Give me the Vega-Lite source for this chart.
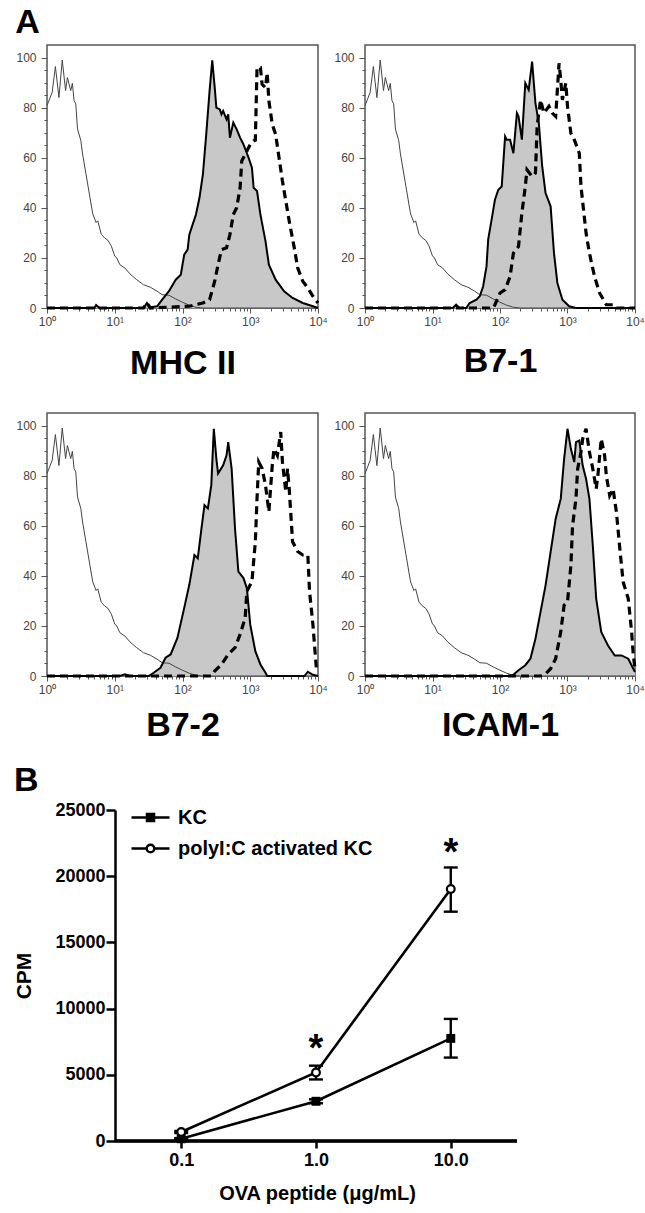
{
  "$schema": "https://vega.github.io/schema/vega-lite/v6.json",
  "background": "white",
  "padding": {"left": 13, "top": 6, "right": 2, "bottom": 5},
  "config": {
    "font": "Liberation Sans",
    "view": {"stroke": "#555555", "strokeWidth": 1.5},
    "title": {"anchor": "start", "fontSize": 34, "fontWeight": "bold", "color": "black", "font": "Liberation Sans", "offset": 4},
    "axis": {"labelFont": "Liberation Sans", "titleFont": "Liberation Sans"}
  },
  "datasets": {
    "iso": [
      {"fluorescence": 1, "count": 80.8}, {"fluorescence": 1.19, "count": 86}, {"fluorescence": 1.33, "count": 96.4},
      {"fluorescence": 1.5, "count": 84}, {"fluorescence": 1.68, "count": 99}, {"fluorescence": 1.88, "count": 86.8},
      {"fluorescence": 2, "count": 92}, {"fluorescence": 2.24, "count": 86.8}, {"fluorescence": 2.37, "count": 89.7},
      {"fluorescence": 2.51, "count": 82.8}, {"fluorescence": 2.66, "count": 81.5}, {"fluorescence": 2.82, "count": 71.5},
      {"fluorescence": 3.16, "count": 66.8}, {"fluorescence": 3.35, "count": 61.5}, {"fluorescence": 3.76, "count": 53.5},
      {"fluorescence": 4.22, "count": 45.5}, {"fluorescence": 4.73, "count": 37.6}, {"fluorescence": 5.31, "count": 34.1},
      {"fluorescence": 5.62, "count": 34.8}, {"fluorescence": 6.31, "count": 29.5}, {"fluorescence": 7.08, "count": 28},
      {"fluorescence": 7.94, "count": 27}, {"fluorescence": 8.91, "count": 24.7}, {"fluorescence": 10, "count": 20.7},
      {"fluorescence": 10.6, "count": 20.2}, {"fluorescence": 11.9, "count": 17.3}, {"fluorescence": 14.1, "count": 16},
      {"fluorescence": 16.8, "count": 13.6}, {"fluorescence": 21.1, "count": 11.3}, {"fluorescence": 26.6, "count": 9.3},
      {"fluorescence": 33.5, "count": 8.3}, {"fluorescence": 42.2, "count": 6.7}, {"fluorescence": 50.1, "count": 5.3},
      {"fluorescence": 63.1, "count": 5.1}, {"fluorescence": 79.4, "count": 3.6}, {"fluorescence": 100, "count": 2.3},
      {"fluorescence": 126, "count": 1.1}, {"fluorescence": 158, "count": 0.3}, {"fluorescence": 200, "count": 0},
      {"fluorescence": 10000, "count": 0}
    ],
    "hist": [
      {"marker": "MHC II", "series": "KC", "fluorescence": 1, "count": 0},
      {"marker": "MHC II", "series": "KC", "fluorescence": 5.01, "count": 0},
      {"marker": "MHC II", "series": "KC", "fluorescence": 5.31, "count": 1.2},
      {"marker": "MHC II", "series": "KC", "fluorescence": 5.96, "count": 0},
      {"marker": "MHC II", "series": "KC", "fluorescence": 26.6, "count": 0},
      {"marker": "MHC II", "series": "KC", "fluorescence": 29.9, "count": 2},
      {"marker": "MHC II", "series": "KC", "fluorescence": 33.5, "count": 0.3},
      {"marker": "MHC II", "series": "KC", "fluorescence": 42.2, "count": 0.7},
      {"marker": "MHC II", "series": "KC", "fluorescence": 50.1, "count": 3.3},
      {"marker": "MHC II", "series": "KC", "fluorescence": 63.1, "count": 6.7},
      {"marker": "MHC II", "series": "KC", "fluorescence": 79.4, "count": 11.3},
      {"marker": "MHC II", "series": "KC", "fluorescence": 94.4, "count": 13.3},
      {"marker": "MHC II", "series": "KC", "fluorescence": 106, "count": 21.3},
      {"marker": "MHC II", "series": "KC", "fluorescence": 119, "count": 23.3},
      {"marker": "MHC II", "series": "KC", "fluorescence": 126, "count": 29.3},
      {"marker": "MHC II", "series": "KC", "fluorescence": 141, "count": 33.3},
      {"marker": "MHC II", "series": "KC", "fluorescence": 158, "count": 37.3},
      {"marker": "MHC II", "series": "KC", "fluorescence": 178, "count": 44},
      {"marker": "MHC II", "series": "KC", "fluorescence": 200, "count": 53.3},
      {"marker": "MHC II", "series": "KC", "fluorescence": 224, "count": 69.3},
      {"marker": "MHC II", "series": "KC", "fluorescence": 251, "count": 86.7},
      {"marker": "MHC II", "series": "KC", "fluorescence": 275, "count": 98.9},
      {"marker": "MHC II", "series": "KC", "fluorescence": 299, "count": 88},
      {"marker": "MHC II", "series": "KC", "fluorescence": 316, "count": 80},
      {"marker": "MHC II", "series": "KC", "fluorescence": 355, "count": 79.3},
      {"marker": "MHC II", "series": "KC", "fluorescence": 376, "count": 77.3},
      {"marker": "MHC II", "series": "KC", "fluorescence": 398, "count": 78.7},
      {"marker": "MHC II", "series": "KC", "fluorescence": 447, "count": 75.3},
      {"marker": "MHC II", "series": "KC", "fluorescence": 473, "count": 77.3},
      {"marker": "MHC II", "series": "KC", "fluorescence": 501, "count": 68},
      {"marker": "MHC II", "series": "KC", "fluorescence": 562, "count": 74},
      {"marker": "MHC II", "series": "KC", "fluorescence": 631, "count": 71.3},
      {"marker": "MHC II", "series": "KC", "fluorescence": 708, "count": 68},
      {"marker": "MHC II", "series": "KC", "fluorescence": 794, "count": 65.3},
      {"marker": "MHC II", "series": "KC", "fluorescence": 944, "count": 60},
      {"marker": "MHC II", "series": "KC", "fluorescence": 1059, "count": 56},
      {"marker": "MHC II", "series": "KC", "fluorescence": 1122, "count": 48},
      {"marker": "MHC II", "series": "KC", "fluorescence": 1259, "count": 46.7},
      {"marker": "MHC II", "series": "KC", "fluorescence": 1413, "count": 37.3},
      {"marker": "MHC II", "series": "KC", "fluorescence": 1679, "count": 26.7},
      {"marker": "MHC II", "series": "KC", "fluorescence": 1884, "count": 17.3},
      {"marker": "MHC II", "series": "KC", "fluorescence": 2371, "count": 11.3},
      {"marker": "MHC II", "series": "KC", "fluorescence": 3162, "count": 6.7},
      {"marker": "MHC II", "series": "KC", "fluorescence": 4217, "count": 4},
      {"marker": "MHC II", "series": "KC", "fluorescence": 5957, "count": 2},
      {"marker": "MHC II", "series": "KC", "fluorescence": 8414, "count": 0.7},
      {"marker": "MHC II", "series": "KC", "fluorescence": 10000, "count": 0},

      {"marker": "MHC II", "series": "activated", "fluorescence": 1, "count": 0},
      {"marker": "MHC II", "series": "activated", "fluorescence": 26.6, "count": 0},
      {"marker": "MHC II", "series": "activated", "fluorescence": 29.9, "count": 2},
      {"marker": "MHC II", "series": "activated", "fluorescence": 33.5, "count": 0},
      {"marker": "MHC II", "series": "activated", "fluorescence": 126, "count": 0.7},
      {"marker": "MHC II", "series": "activated", "fluorescence": 200, "count": 2},
      {"marker": "MHC II", "series": "activated", "fluorescence": 251, "count": 3.3},
      {"marker": "MHC II", "series": "activated", "fluorescence": 299, "count": 10.7},
      {"marker": "MHC II", "series": "activated", "fluorescence": 335, "count": 17.3},
      {"marker": "MHC II", "series": "activated", "fluorescence": 376, "count": 23.3},
      {"marker": "MHC II", "series": "activated", "fluorescence": 447, "count": 24},
      {"marker": "MHC II", "series": "activated", "fluorescence": 501, "count": 29.3},
      {"marker": "MHC II", "series": "activated", "fluorescence": 562, "count": 37.3},
      {"marker": "MHC II", "series": "activated", "fluorescence": 631, "count": 40},
      {"marker": "MHC II", "series": "activated", "fluorescence": 708, "count": 48},
      {"marker": "MHC II", "series": "activated", "fluorescence": 750, "count": 58.7},
      {"marker": "MHC II", "series": "activated", "fluorescence": 841, "count": 61.3},
      {"marker": "MHC II", "series": "activated", "fluorescence": 1000, "count": 65.3},
      {"marker": "MHC II", "series": "activated", "fluorescence": 1122, "count": 66.7},
      {"marker": "MHC II", "series": "activated", "fluorescence": 1189, "count": 67},
      {"marker": "MHC II", "series": "activated", "fluorescence": 1259, "count": 96},
      {"marker": "MHC II", "series": "activated", "fluorescence": 1413, "count": 96},
      {"marker": "MHC II", "series": "activated", "fluorescence": 1496, "count": 89.3},
      {"marker": "MHC II", "series": "activated", "fluorescence": 1679, "count": 88},
      {"marker": "MHC II", "series": "activated", "fluorescence": 1778, "count": 94},
      {"marker": "MHC II", "series": "activated", "fluorescence": 1884, "count": 82.7},
      {"marker": "MHC II", "series": "activated", "fluorescence": 2113, "count": 73.3},
      {"marker": "MHC II", "series": "activated", "fluorescence": 2371, "count": 69.3},
      {"marker": "MHC II", "series": "activated", "fluorescence": 2661, "count": 60},
      {"marker": "MHC II", "series": "activated", "fluorescence": 2985, "count": 50.7},
      {"marker": "MHC II", "series": "activated", "fluorescence": 3350, "count": 42.7},
      {"marker": "MHC II", "series": "activated", "fluorescence": 3758, "count": 34.7},
      {"marker": "MHC II", "series": "activated", "fluorescence": 4467, "count": 24},
      {"marker": "MHC II", "series": "activated", "fluorescence": 5012, "count": 16},
      {"marker": "MHC II", "series": "activated", "fluorescence": 5957, "count": 10.7},
      {"marker": "MHC II", "series": "activated", "fluorescence": 7079, "count": 8},
      {"marker": "MHC II", "series": "activated", "fluorescence": 8414, "count": 4.7},
      {"marker": "MHC II", "series": "activated", "fluorescence": 10000, "count": 2},

      {"marker": "B7-1", "series": "KC", "fluorescence": 1, "count": 0},
      {"marker": "B7-1", "series": "KC", "fluorescence": 20, "count": 0},
      {"marker": "B7-1", "series": "KC", "fluorescence": 22.4, "count": 1.3},
      {"marker": "B7-1", "series": "KC", "fluorescence": 25.1, "count": 0},
      {"marker": "B7-1", "series": "KC", "fluorescence": 31.6, "count": 0},
      {"marker": "B7-1", "series": "KC", "fluorescence": 35.5, "count": 2},
      {"marker": "B7-1", "series": "KC", "fluorescence": 44.7, "count": 3.3},
      {"marker": "B7-1", "series": "KC", "fluorescence": 50.1, "count": 4.7},
      {"marker": "B7-1", "series": "KC", "fluorescence": 56.2, "count": 8.6},
      {"marker": "B7-1", "series": "KC", "fluorescence": 63.1, "count": 16.6},
      {"marker": "B7-1", "series": "KC", "fluorescence": 66.8, "count": 27.3},
      {"marker": "B7-1", "series": "KC", "fluorescence": 75, "count": 35.2},
      {"marker": "B7-1", "series": "KC", "fluorescence": 84.1, "count": 43.2},
      {"marker": "B7-1", "series": "KC", "fluorescence": 94.4, "count": 47.2},
      {"marker": "B7-1", "series": "KC", "fluorescence": 106, "count": 48.5},
      {"marker": "B7-1", "series": "KC", "fluorescence": 119, "count": 68.5},
      {"marker": "B7-1", "series": "KC", "fluorescence": 126, "count": 67.2},
      {"marker": "B7-1", "series": "KC", "fluorescence": 141, "count": 67.2},
      {"marker": "B7-1", "series": "KC", "fluorescence": 158, "count": 61.8},
      {"marker": "B7-1", "series": "KC", "fluorescence": 178, "count": 77.8},
      {"marker": "B7-1", "series": "KC", "fluorescence": 188, "count": 76.5},
      {"marker": "B7-1", "series": "KC", "fluorescence": 211, "count": 67.2},
      {"marker": "B7-1", "series": "KC", "fluorescence": 237, "count": 89.8},
      {"marker": "B7-1", "series": "KC", "fluorescence": 266, "count": 87.1},
      {"marker": "B7-1", "series": "KC", "fluorescence": 299, "count": 98.4},
      {"marker": "B7-1", "series": "KC", "fluorescence": 335, "count": 81.8},
      {"marker": "B7-1", "series": "KC", "fluorescence": 376, "count": 73.8},
      {"marker": "B7-1", "series": "KC", "fluorescence": 422, "count": 56.5},
      {"marker": "B7-1", "series": "KC", "fluorescence": 473, "count": 45.9},
      {"marker": "B7-1", "series": "KC", "fluorescence": 562, "count": 40.6},
      {"marker": "B7-1", "series": "KC", "fluorescence": 631, "count": 21.9},
      {"marker": "B7-1", "series": "KC", "fluorescence": 708, "count": 10},
      {"marker": "B7-1", "series": "KC", "fluorescence": 841, "count": 3.3},
      {"marker": "B7-1", "series": "KC", "fluorescence": 1059, "count": 0.7},
      {"marker": "B7-1", "series": "KC", "fluorescence": 1334, "count": 0},
      {"marker": "B7-1", "series": "KC", "fluorescence": 10000, "count": 0},

      {"marker": "B7-1", "series": "activated", "fluorescence": 1, "count": 0},
      {"marker": "B7-1", "series": "activated", "fluorescence": 79.4, "count": 0},
      {"marker": "B7-1", "series": "activated", "fluorescence": 84.1, "count": 1.3},
      {"marker": "B7-1", "series": "activated", "fluorescence": 100, "count": 6},
      {"marker": "B7-1", "series": "activated", "fluorescence": 119, "count": 7.3},
      {"marker": "B7-1", "series": "activated", "fluorescence": 141, "count": 12.6},
      {"marker": "B7-1", "series": "activated", "fluorescence": 158, "count": 21.9},
      {"marker": "B7-1", "series": "activated", "fluorescence": 188, "count": 24.6},
      {"marker": "B7-1", "series": "activated", "fluorescence": 211, "count": 37.9},
      {"marker": "B7-1", "series": "activated", "fluorescence": 237, "count": 48.5},
      {"marker": "B7-1", "series": "activated", "fluorescence": 251, "count": 55.2},
      {"marker": "B7-1", "series": "activated", "fluorescence": 299, "count": 52.5},
      {"marker": "B7-1", "series": "activated", "fluorescence": 335, "count": 53.9},
      {"marker": "B7-1", "series": "activated", "fluorescence": 355, "count": 72.5},
      {"marker": "B7-1", "series": "activated", "fluorescence": 398, "count": 83.1},
      {"marker": "B7-1", "series": "activated", "fluorescence": 447, "count": 77.8},
      {"marker": "B7-1", "series": "activated", "fluorescence": 531, "count": 80.5},
      {"marker": "B7-1", "series": "activated", "fluorescence": 596, "count": 77.8},
      {"marker": "B7-1", "series": "activated", "fluorescence": 668, "count": 76.5},
      {"marker": "B7-1", "series": "activated", "fluorescence": 750, "count": 97.7},
      {"marker": "B7-1", "series": "activated", "fluorescence": 794, "count": 91.1},
      {"marker": "B7-1", "series": "activated", "fluorescence": 841, "count": 83.1},
      {"marker": "B7-1", "series": "activated", "fluorescence": 944, "count": 89.8},
      {"marker": "B7-1", "series": "activated", "fluorescence": 1000, "count": 80.5},
      {"marker": "B7-1", "series": "activated", "fluorescence": 1122, "count": 69.8},
      {"marker": "B7-1", "series": "activated", "fluorescence": 1259, "count": 67.2},
      {"marker": "B7-1", "series": "activated", "fluorescence": 1496, "count": 61.8},
      {"marker": "B7-1", "series": "activated", "fluorescence": 1585, "count": 48.5},
      {"marker": "B7-1", "series": "activated", "fluorescence": 1884, "count": 29.9},
      {"marker": "B7-1", "series": "activated", "fluorescence": 2113, "count": 21.9},
      {"marker": "B7-1", "series": "activated", "fluorescence": 2512, "count": 12.6},
      {"marker": "B7-1", "series": "activated", "fluorescence": 2985, "count": 6},
      {"marker": "B7-1", "series": "activated", "fluorescence": 3758, "count": 1.3},
      {"marker": "B7-1", "series": "activated", "fluorescence": 4732, "count": 1.3},
      {"marker": "B7-1", "series": "activated", "fluorescence": 5309, "count": 0},
      {"marker": "B7-1", "series": "activated", "fluorescence": 10000, "count": 0},

      {"marker": "B7-2", "series": "KC", "fluorescence": 1, "count": 0},
      {"marker": "B7-2", "series": "KC", "fluorescence": 11.9, "count": 0},
      {"marker": "B7-2", "series": "KC", "fluorescence": 14.1, "count": 0.7},
      {"marker": "B7-2", "series": "KC", "fluorescence": 16.8, "count": 0},
      {"marker": "B7-2", "series": "KC", "fluorescence": 31.6, "count": 0},
      {"marker": "B7-2", "series": "KC", "fluorescence": 37.6, "count": 1.3},
      {"marker": "B7-2", "series": "KC", "fluorescence": 47.3, "count": 3.3},
      {"marker": "B7-2", "series": "KC", "fluorescence": 56.2, "count": 7.3},
      {"marker": "B7-2", "series": "KC", "fluorescence": 66.8, "count": 8.6},
      {"marker": "B7-2", "series": "KC", "fluorescence": 84.1, "count": 15.2},
      {"marker": "B7-2", "series": "KC", "fluorescence": 106, "count": 27.2},
      {"marker": "B7-2", "series": "KC", "fluorescence": 126, "count": 36.4},
      {"marker": "B7-2", "series": "KC", "fluorescence": 150, "count": 48.3},
      {"marker": "B7-2", "series": "KC", "fluorescence": 168, "count": 47},
      {"marker": "B7-2", "series": "KC", "fluorescence": 188, "count": 57.6},
      {"marker": "B7-2", "series": "KC", "fluorescence": 211, "count": 68.2},
      {"marker": "B7-2", "series": "KC", "fluorescence": 237, "count": 66.9},
      {"marker": "B7-2", "series": "KC", "fluorescence": 266, "count": 76.2},
      {"marker": "B7-2", "series": "KC", "fluorescence": 290, "count": 98.7},
      {"marker": "B7-2", "series": "KC", "fluorescence": 316, "count": 86.8},
      {"marker": "B7-2", "series": "KC", "fluorescence": 335, "count": 80.8},
      {"marker": "B7-2", "series": "KC", "fluorescence": 398, "count": 84.1},
      {"marker": "B7-2", "series": "KC", "fluorescence": 447, "count": 88.1},
      {"marker": "B7-2", "series": "KC", "fluorescence": 473, "count": 93.4},
      {"marker": "B7-2", "series": "KC", "fluorescence": 531, "count": 82.8},
      {"marker": "B7-2", "series": "KC", "fluorescence": 596, "count": 58.9},
      {"marker": "B7-2", "series": "KC", "fluorescence": 668, "count": 41.7},
      {"marker": "B7-2", "series": "KC", "fluorescence": 794, "count": 39.1},
      {"marker": "B7-2", "series": "KC", "fluorescence": 891, "count": 35.1},
      {"marker": "B7-2", "series": "KC", "fluorescence": 1000, "count": 20.5},
      {"marker": "B7-2", "series": "KC", "fluorescence": 1189, "count": 9.9},
      {"marker": "B7-2", "series": "KC", "fluorescence": 1413, "count": 4.6},
      {"marker": "B7-2", "series": "KC", "fluorescence": 1679, "count": 1.3},
      {"marker": "B7-2", "series": "KC", "fluorescence": 1778, "count": 0},
      {"marker": "B7-2", "series": "KC", "fluorescence": 6310, "count": 0},
      {"marker": "B7-2", "series": "KC", "fluorescence": 7079, "count": 1.7},
      {"marker": "B7-2", "series": "KC", "fluorescence": 8414, "count": 0.5},
      {"marker": "B7-2", "series": "KC", "fluorescence": 10000, "count": 0},

      {"marker": "B7-2", "series": "activated", "fluorescence": 1, "count": 0},
      {"marker": "B7-2", "series": "activated", "fluorescence": 266, "count": 0},
      {"marker": "B7-2", "series": "activated", "fluorescence": 299, "count": 2},
      {"marker": "B7-2", "series": "activated", "fluorescence": 376, "count": 4.6},
      {"marker": "B7-2", "series": "activated", "fluorescence": 473, "count": 8.6},
      {"marker": "B7-2", "series": "activated", "fluorescence": 596, "count": 11.3},
      {"marker": "B7-2", "series": "activated", "fluorescence": 708, "count": 16.6},
      {"marker": "B7-2", "series": "activated", "fluorescence": 841, "count": 23.2},
      {"marker": "B7-2", "series": "activated", "fluorescence": 891, "count": 33.8},
      {"marker": "B7-2", "series": "activated", "fluorescence": 1059, "count": 37.7},
      {"marker": "B7-2", "series": "activated", "fluorescence": 1189, "count": 53.6},
      {"marker": "B7-2", "series": "activated", "fluorescence": 1259, "count": 70.9},
      {"marker": "B7-2", "series": "activated", "fluorescence": 1334, "count": 85.4},
      {"marker": "B7-2", "series": "activated", "fluorescence": 1496, "count": 82.8},
      {"marker": "B7-2", "series": "activated", "fluorescence": 1679, "count": 76.2},
      {"marker": "B7-2", "series": "activated", "fluorescence": 1884, "count": 65.6},
      {"marker": "B7-2", "series": "activated", "fluorescence": 2113, "count": 84.1},
      {"marker": "B7-2", "series": "activated", "fluorescence": 2239, "count": 90.7},
      {"marker": "B7-2", "series": "activated", "fluorescence": 2512, "count": 88.1},
      {"marker": "B7-2", "series": "activated", "fluorescence": 2818, "count": 97.4},
      {"marker": "B7-2", "series": "activated", "fluorescence": 2985, "count": 85.4},
      {"marker": "B7-2", "series": "activated", "fluorescence": 3350, "count": 73.5},
      {"marker": "B7-2", "series": "activated", "fluorescence": 3548, "count": 82.8},
      {"marker": "B7-2", "series": "activated", "fluorescence": 3758, "count": 74.8},
      {"marker": "B7-2", "series": "activated", "fluorescence": 4217, "count": 53.6},
      {"marker": "B7-2", "series": "activated", "fluorescence": 5012, "count": 49.7},
      {"marker": "B7-2", "series": "activated", "fluorescence": 5957, "count": 48.3},
      {"marker": "B7-2", "series": "activated", "fluorescence": 7079, "count": 48.3},
      {"marker": "B7-2", "series": "activated", "fluorescence": 7499, "count": 33.8},
      {"marker": "B7-2", "series": "activated", "fluorescence": 8414, "count": 20.5},
      {"marker": "B7-2", "series": "activated", "fluorescence": 9441, "count": 3.3},
      {"marker": "B7-2", "series": "activated", "fluorescence": 10000, "count": 4},

      {"marker": "ICAM-1", "series": "KC", "fluorescence": 1, "count": 0},
      {"marker": "ICAM-1", "series": "KC", "fluorescence": 150, "count": 0},
      {"marker": "ICAM-1", "series": "KC", "fluorescence": 188, "count": 2.3},
      {"marker": "ICAM-1", "series": "KC", "fluorescence": 237, "count": 4.3},
      {"marker": "ICAM-1", "series": "KC", "fluorescence": 282, "count": 6.9},
      {"marker": "ICAM-1", "series": "KC", "fluorescence": 335, "count": 14.9},
      {"marker": "ICAM-1", "series": "KC", "fluorescence": 398, "count": 25.5},
      {"marker": "ICAM-1", "series": "KC", "fluorescence": 473, "count": 36.2},
      {"marker": "ICAM-1", "series": "KC", "fluorescence": 562, "count": 49.5},
      {"marker": "ICAM-1", "series": "KC", "fluorescence": 668, "count": 62.8},
      {"marker": "ICAM-1", "series": "KC", "fluorescence": 794, "count": 70.7},
      {"marker": "ICAM-1", "series": "KC", "fluorescence": 891, "count": 86.7},
      {"marker": "ICAM-1", "series": "KC", "fluorescence": 1000, "count": 98.7},
      {"marker": "ICAM-1", "series": "KC", "fluorescence": 1122, "count": 90.7},
      {"marker": "ICAM-1", "series": "KC", "fluorescence": 1259, "count": 85.4},
      {"marker": "ICAM-1", "series": "KC", "fluorescence": 1334, "count": 93.4},
      {"marker": "ICAM-1", "series": "KC", "fluorescence": 1496, "count": 94},
      {"marker": "ICAM-1", "series": "KC", "fluorescence": 1679, "count": 84},
      {"marker": "ICAM-1", "series": "KC", "fluorescence": 1884, "count": 78.7},
      {"marker": "ICAM-1", "series": "KC", "fluorescence": 2113, "count": 70.7},
      {"marker": "ICAM-1", "series": "KC", "fluorescence": 2371, "count": 52.1},
      {"marker": "ICAM-1", "series": "KC", "fluorescence": 2661, "count": 30.9},
      {"marker": "ICAM-1", "series": "KC", "fluorescence": 3162, "count": 17.6},
      {"marker": "ICAM-1", "series": "KC", "fluorescence": 3981, "count": 12.2},
      {"marker": "ICAM-1", "series": "KC", "fluorescence": 5012, "count": 8.2},
      {"marker": "ICAM-1", "series": "KC", "fluorescence": 6310, "count": 8.2},
      {"marker": "ICAM-1", "series": "KC", "fluorescence": 7943, "count": 6.9},
      {"marker": "ICAM-1", "series": "KC", "fluorescence": 9441, "count": 2.9},
      {"marker": "ICAM-1", "series": "KC", "fluorescence": 10000, "count": 1.6},

      {"marker": "ICAM-1", "series": "activated", "fluorescence": 1, "count": 0},
      {"marker": "ICAM-1", "series": "activated", "fluorescence": 398, "count": 0},
      {"marker": "ICAM-1", "series": "activated", "fluorescence": 473, "count": 0.9},
      {"marker": "ICAM-1", "series": "activated", "fluorescence": 562, "count": 2.9},
      {"marker": "ICAM-1", "series": "activated", "fluorescence": 668, "count": 6.9},
      {"marker": "ICAM-1", "series": "activated", "fluorescence": 794, "count": 17.6},
      {"marker": "ICAM-1", "series": "activated", "fluorescence": 891, "count": 28.2},
      {"marker": "ICAM-1", "series": "activated", "fluorescence": 1000, "count": 29.5},
      {"marker": "ICAM-1", "series": "activated", "fluorescence": 1122, "count": 44.1},
      {"marker": "ICAM-1", "series": "activated", "fluorescence": 1189, "count": 60.1},
      {"marker": "ICAM-1", "series": "activated", "fluorescence": 1334, "count": 70.7},
      {"marker": "ICAM-1", "series": "activated", "fluorescence": 1413, "count": 82.7},
      {"marker": "ICAM-1", "series": "activated", "fluorescence": 1585, "count": 89.4},
      {"marker": "ICAM-1", "series": "activated", "fluorescence": 1679, "count": 94.7},
      {"marker": "ICAM-1", "series": "activated", "fluorescence": 1884, "count": 98.7},
      {"marker": "ICAM-1", "series": "activated", "fluorescence": 2113, "count": 89.4},
      {"marker": "ICAM-1", "series": "activated", "fluorescence": 2371, "count": 82.7},
      {"marker": "ICAM-1", "series": "activated", "fluorescence": 2661, "count": 74.7},
      {"marker": "ICAM-1", "series": "activated", "fluorescence": 2818, "count": 80},
      {"marker": "ICAM-1", "series": "activated", "fluorescence": 3162, "count": 94.7},
      {"marker": "ICAM-1", "series": "activated", "fluorescence": 3548, "count": 88},
      {"marker": "ICAM-1", "series": "activated", "fluorescence": 3758, "count": 80},
      {"marker": "ICAM-1", "series": "activated", "fluorescence": 4217, "count": 72.1},
      {"marker": "ICAM-1", "series": "activated", "fluorescence": 4732, "count": 74.7},
      {"marker": "ICAM-1", "series": "activated", "fluorescence": 5309, "count": 65.4},
      {"marker": "ICAM-1", "series": "activated", "fluorescence": 5957, "count": 50.8},
      {"marker": "ICAM-1", "series": "activated", "fluorescence": 6683, "count": 37.5},
      {"marker": "ICAM-1", "series": "activated", "fluorescence": 7943, "count": 30.9},
      {"marker": "ICAM-1", "series": "activated", "fluorescence": 8913, "count": 17.6},
      {"marker": "ICAM-1", "series": "activated", "fluorescence": 9441, "count": 8.2},
      {"marker": "ICAM-1", "series": "activated", "fluorescence": 10000, "count": 2.9}
    ],
    "prolif": [
      {"dose": 0.1, "series": "KC", "cpm": 170, "lo": 120, "hi": 220},
      {"dose": 1, "series": "KC", "cpm": 3000, "lo": 2850, "hi": 3150},
      {"dose": 10, "series": "KC", "cpm": 7750, "lo": 6300, "hi": 9220},
      {"dose": 0.1, "series": "polyI:C activated KC", "cpm": 680, "lo": 600, "hi": 760},
      {"dose": 1, "series": "polyI:C activated KC", "cpm": 5180, "lo": 4650, "hi": 5690},
      {"dose": 10, "series": "polyI:C activated KC", "cpm": 19040, "lo": 17320, "hi": 20660}
    ],
    "stars": [
      {"dose": 1, "cpm": 7250, "label": "*"},
      {"dose": 10, "cpm": 22050, "label": "*"}
    ]
  },
  "columns": 1,
  "spacing": 21,
  "resolve": {"scale": {"shape": "independent", "fill": "independent"}, "legend": {"shape": "independent", "fill": "independent"}},
  "concat": [
    {
      "title": {"text": "A"},
      "spacing": 31,
      "vconcat": [
        {
          "spacing": 4,
          "hconcat": [
            {
              "width": 271, "height": 263,
              "encoding": {
                "x": {"field": "fluorescence", "type": "quantitative", "title": "MHC II",
                  "scale": {"type": "log", "domain": [1, 10000]},
                  "axis": {"values": [1,2,3,4,5,6,7,8,9,10,20,30,40,50,60,70,80,90,100,200,300,400,500,600,700,800,900,1000,2000,3000,4000,5000,6000,7000,8000,9000,10000],
                    "labelExpr": "datum.value == 1 ? '10⁰' : datum.value == 10 ? '10¹' : datum.value == 100 ? '10²' : datum.value == 1000 ? '10³' : datum.value == 10000 ? '10⁴' : ''",
                    "tickSize": {"condition": {"test": "indexof([1,10,100,1000,10000], datum.value) >= 0", "value": 5}, "value": 3},
                    "domain": false, "grid": false, "tickColor": "#555555", "labelColor": "#444444", "labelFontSize": 12, "labelPadding": 3,
                    "labelOverlap": false, "labelFlush": false, "titleFontSize": 34, "titleFontWeight": "bold", "titleColor": "black", "titlePadding": 19}},
                "y": {"field": "count", "type": "quantitative", "title": null,
                  "scale": {"domain": [0, 105], "nice": false},
                  "axis": {"values": [0,5,10,15,20,25,30,35,40,45,50,55,60,65,70,75,80,85,90,95,100],
                    "labelExpr": "datum.value % 20 == 0 ? datum.label : ''",
                    "tickSize": {"condition": {"test": "datum.value % 20 == 0", "value": 6}, "value": 3},
                    "domain": false, "grid": false, "tickColor": "#555555", "labelColor": "#444444", "labelFontSize": 12, "labelPadding": 5, "labelOverlap": false}}
              },
              "layer": [
                {"data": {"name": "hist"}, "transform": [{"filter": "datum.marker === 'MHC II' && datum.series === 'KC'"}], "mark": {"type": "area", "color": "#c8c8c8"}},
                {"data": {"name": "iso"}, "mark": {"type": "line", "color": "#444444", "strokeWidth": 1}},
                {"data": {"name": "hist"}, "transform": [{"filter": "datum.marker === 'MHC II' && datum.series === 'KC'"}], "mark": {"type": "line", "color": "black", "strokeWidth": 2}},
                {"data": {"name": "hist"}, "transform": [{"filter": "datum.marker === 'MHC II' && datum.series === 'activated'"}], "mark": {"type": "line", "color": "black", "strokeWidth": 3.2, "strokeDash": [8, 5]}}
              ]
            },
            {
              "width": 270, "height": 263,
              "encoding": {
                "x": {"field": "fluorescence", "type": "quantitative", "title": "B7-1",
                  "scale": {"type": "log", "domain": [1, 10000]},
                  "axis": {"values": [1,2,3,4,5,6,7,8,9,10,20,30,40,50,60,70,80,90,100,200,300,400,500,600,700,800,900,1000,2000,3000,4000,5000,6000,7000,8000,9000,10000],
                    "labelExpr": "datum.value == 1 ? '10⁰' : datum.value == 10 ? '10¹' : datum.value == 100 ? '10²' : datum.value == 1000 ? '10³' : datum.value == 10000 ? '10⁴' : ''",
                    "tickSize": {"condition": {"test": "indexof([1,10,100,1000,10000], datum.value) >= 0", "value": 5}, "value": 3},
                    "domain": false, "grid": false, "tickColor": "#555555", "labelColor": "#444444", "labelFontSize": 12, "labelPadding": 3,
                    "labelOverlap": false, "labelFlush": false, "titleFontSize": 34, "titleFontWeight": "bold", "titleColor": "black", "titlePadding": 17}},
                "y": {"field": "count", "type": "quantitative", "title": null,
                  "scale": {"domain": [0, 105], "nice": false},
                  "axis": {"values": [0,5,10,15,20,25,30,35,40,45,50,55,60,65,70,75,80,85,90,95,100],
                    "labelExpr": "datum.value % 20 == 0 ? datum.label : ''",
                    "tickSize": {"condition": {"test": "datum.value % 20 == 0", "value": 6}, "value": 3},
                    "domain": false, "grid": false, "tickColor": "#555555", "labelColor": "#444444", "labelFontSize": 12, "labelPadding": 5, "labelOverlap": false}}
              },
              "layer": [
                {"data": {"name": "hist"}, "transform": [{"filter": "datum.marker === 'B7-1' && datum.series === 'KC'"}], "mark": {"type": "area", "color": "#c8c8c8"}},
                {"data": {"name": "iso"}, "mark": {"type": "line", "color": "#444444", "strokeWidth": 1}},
                {"data": {"name": "hist"}, "transform": [{"filter": "datum.marker === 'B7-1' && datum.series === 'KC'"}], "mark": {"type": "line", "color": "black", "strokeWidth": 2}},
                {"data": {"name": "hist"}, "transform": [{"filter": "datum.marker === 'B7-1' && datum.series === 'activated'"}], "mark": {"type": "line", "color": "black", "strokeWidth": 3.2, "strokeDash": [8, 5]}}
              ]
            }
          ]
        },
        {
          "spacing": 4,
          "hconcat": [
            {
              "width": 271, "height": 263,
              "encoding": {
                "x": {"field": "fluorescence", "type": "quantitative", "title": "B7-2",
                  "scale": {"type": "log", "domain": [1, 10000]},
                  "axis": {"values": [1,2,3,4,5,6,7,8,9,10,20,30,40,50,60,70,80,90,100,200,300,400,500,600,700,800,900,1000,2000,3000,4000,5000,6000,7000,8000,9000,10000],
                    "labelExpr": "datum.value == 1 ? '10⁰' : datum.value == 10 ? '10¹' : datum.value == 100 ? '10²' : datum.value == 1000 ? '10³' : datum.value == 10000 ? '10⁴' : ''",
                    "tickSize": {"condition": {"test": "indexof([1,10,100,1000,10000], datum.value) >= 0", "value": 5}, "value": 3},
                    "domain": false, "grid": false, "tickColor": "#555555", "labelColor": "#444444", "labelFontSize": 12, "labelPadding": 3,
                    "labelOverlap": false, "labelFlush": false, "titleFontSize": 34, "titleFontWeight": "bold", "titleColor": "black", "titlePadding": 13}},
                "y": {"field": "count", "type": "quantitative", "title": null,
                  "scale": {"domain": [0, 105], "nice": false},
                  "axis": {"values": [0,5,10,15,20,25,30,35,40,45,50,55,60,65,70,75,80,85,90,95,100],
                    "labelExpr": "datum.value % 20 == 0 ? datum.label : ''",
                    "tickSize": {"condition": {"test": "datum.value % 20 == 0", "value": 6}, "value": 3},
                    "domain": false, "grid": false, "tickColor": "#555555", "labelColor": "#444444", "labelFontSize": 12, "labelPadding": 5, "labelOverlap": false}}
              },
              "layer": [
                {"data": {"name": "hist"}, "transform": [{"filter": "datum.marker === 'B7-2' && datum.series === 'KC'"}], "mark": {"type": "area", "color": "#c8c8c8"}},
                {"data": {"name": "iso"}, "mark": {"type": "line", "color": "#444444", "strokeWidth": 1}},
                {"data": {"name": "hist"}, "transform": [{"filter": "datum.marker === 'B7-2' && datum.series === 'KC'"}], "mark": {"type": "line", "color": "black", "strokeWidth": 2}},
                {"data": {"name": "hist"}, "transform": [{"filter": "datum.marker === 'B7-2' && datum.series === 'activated'"}], "mark": {"type": "line", "color": "black", "strokeWidth": 3.2, "strokeDash": [8, 5]}}
              ]
            },
            {
              "width": 270, "height": 263,
              "encoding": {
                "x": {"field": "fluorescence", "type": "quantitative", "title": "ICAM-1",
                  "scale": {"type": "log", "domain": [1, 10000]},
                  "axis": {"values": [1,2,3,4,5,6,7,8,9,10,20,30,40,50,60,70,80,90,100,200,300,400,500,600,700,800,900,1000,2000,3000,4000,5000,6000,7000,8000,9000,10000],
                    "labelExpr": "datum.value == 1 ? '10⁰' : datum.value == 10 ? '10¹' : datum.value == 100 ? '10²' : datum.value == 1000 ? '10³' : datum.value == 10000 ? '10⁴' : ''",
                    "tickSize": {"condition": {"test": "indexof([1,10,100,1000,10000], datum.value) >= 0", "value": 5}, "value": 3},
                    "domain": false, "grid": false, "tickColor": "#555555", "labelColor": "#444444", "labelFontSize": 12, "labelPadding": 3,
                    "labelOverlap": false, "labelFlush": false, "titleFontSize": 34, "titleFontWeight": "bold", "titleColor": "black", "titlePadding": 13}},
                "y": {"field": "count", "type": "quantitative", "title": null,
                  "scale": {"domain": [0, 105], "nice": false},
                  "axis": {"values": [0,5,10,15,20,25,30,35,40,45,50,55,60,65,70,75,80,85,90,95,100],
                    "labelExpr": "datum.value % 20 == 0 ? datum.label : ''",
                    "tickSize": {"condition": {"test": "datum.value % 20 == 0", "value": 6}, "value": 3},
                    "domain": false, "grid": false, "tickColor": "#555555", "labelColor": "#444444", "labelFontSize": 12, "labelPadding": 5, "labelOverlap": false}}
              },
              "layer": [
                {"data": {"name": "hist"}, "transform": [{"filter": "datum.marker === 'ICAM-1' && datum.series === 'KC'"}], "mark": {"type": "area", "color": "#c8c8c8"}},
                {"data": {"name": "iso"}, "mark": {"type": "line", "color": "#444444", "strokeWidth": 1}},
                {"data": {"name": "hist"}, "transform": [{"filter": "datum.marker === 'ICAM-1' && datum.series === 'KC'"}], "mark": {"type": "line", "color": "black", "strokeWidth": 2}},
                {"data": {"name": "hist"}, "transform": [{"filter": "datum.marker === 'ICAM-1' && datum.series === 'activated'"}], "mark": {"type": "line", "color": "black", "strokeWidth": 3.2, "strokeDash": [8, 5]}}
              ]
            }
          ]
        }
      ]
    },
    {
      "title": {"text": "B", "offset": 3},
      "width": 470, "height": 331,
      "view": {"stroke": null},
      "data": {"name": "prolif"},
      "encoding": {
        "x": {"field": "dose", "type": "quantitative", "title": "OVA peptide (μg/mL)",
          "scale": {"type": "log", "domain": [0.0101, 31], "nice": false},
          "axis": {"values": [0.1, 1, 10], "format": ".1f", "domain": false,
            "tickColor": "black", "tickWidth": 2.5, "tickSize": 7, "labelFontSize": 18, "labelFontWeight": "bold", "labelColor": "black",
            "labelPadding": 3, "labelFlush": false, "grid": false, "titleFontSize": 20, "titleFontWeight": "bold", "titleColor": "black", "titlePadding": 14, "titleX": 270}}
      },
      "layer": [
        {
          "mark": {"type": "point", "size": 0, "filled": true, "strokeWidth": 2.5, "opacity": 1},
          "encoding": {
            "y": {"field": "cpm", "type": "quantitative", "title": "CPM",
              "scale": {"domain": [0, 25000], "nice": false},
              "axis": {"values": [0, 5000, 10000, 15000, 20000, 25000], "format": "d", "offset": -68, "domain": true, "domainColor": "black", "domainWidth": 2.5,
                "tickColor": "black", "tickWidth": 2.5, "tickSize": 9, "labelFontSize": 18, "labelFontWeight": "bold", "labelColor": "black",
                "labelPadding": 1, "grid": false, "titleFontSize": 21, "titleFontWeight": "bold", "titleColor": "black", "titlePadding": 20}},
            "shape": {"field": "series", "type": "nominal",
              "scale": {"domain": ["KC", "polyI:C activated KC"], "range": ["M-1.9,0H1.9M-0.35,-0.35H0.35V0.35H-0.35Z", "M-1.9,0H-0.38M0.38,0H1.9M0.38,0A0.38,0.38,0,1,1,-0.38,0A0.38,0.38,0,1,1,0.38,0Z"]},
              "legend": {"orient": "none", "legendX": 92, "legendY": -4, "title": null, "padding": 0, "labelFontSize": 20, "labelFontWeight": "bold", "labelColor": "black", "labelFont": "Liberation Sans", "labelLimit": 400,
                "symbolSize": 400, "symbolStrokeWidth": 2.5, "symbolStrokeColor": "black", "symbolOpacity": 1, "rowPadding": 9, "labelOffset": 16,
                "encode": {"symbols": {"update": {"stroke": {"value": "black"}, "strokeWidth": {"value": 2.5}, "opacity": {"value": 1}}}}}},
            "fill": {"field": "series", "type": "nominal",
              "scale": {"domain": ["KC", "polyI:C activated KC"], "range": ["black", "white"]},
              "legend": {"orient": "none", "legendX": 92, "legendY": -4, "title": null, "padding": 0, "labelFontSize": 20, "labelFontWeight": "bold", "labelColor": "black", "labelFont": "Liberation Sans", "labelLimit": 400,
                "symbolSize": 400, "symbolStrokeWidth": 2.5, "symbolStrokeColor": "black", "symbolOpacity": 1, "rowPadding": 9, "labelOffset": 16,
                "encode": {"symbols": {"update": {"stroke": {"value": "black"}, "strokeWidth": {"value": 2.5}, "opacity": {"value": 1}}}}}},
            "stroke": {"value": "black"}
          }
        },
        {
          "mark": {"type": "rule", "color": "black", "strokeWidth": 2.5},
          "encoding": {"x": {"datum": 0.0325}, "x2": {"datum": 31}, "y": {"datum": 0}}
        },
        {
          "mark": {"type": "line", "color": "black", "strokeWidth": 2.6},
          "encoding": {"y": {"field": "cpm", "type": "quantitative", "title": "CPM"}, "detail": {"field": "series"}}
        },
        {
          "mark": {"type": "rule", "color": "black", "strokeWidth": 2.4},
          "encoding": {"y": {"field": "lo", "type": "quantitative", "title": "CPM"}, "y2": {"field": "hi"}}
        },
        {
          "mark": {"type": "tick", "orient": "horizontal", "color": "black", "thickness": 2.4, "size": 14, "opacity": 1},
          "encoding": {"y": {"field": "lo", "type": "quantitative", "title": "CPM"}}
        },
        {
          "mark": {"type": "tick", "orient": "horizontal", "color": "black", "thickness": 2.4, "size": 14, "opacity": 1},
          "encoding": {"y": {"field": "hi", "type": "quantitative", "title": "CPM"}}
        },
        {
          "transform": [{"filter": "datum.series === 'KC'"}],
          "mark": {"type": "square", "size": 80, "color": "black", "opacity": 1},
          "encoding": {"y": {"field": "cpm", "type": "quantitative", "title": "CPM"}}
        },
        {
          "transform": [{"filter": "datum.series === 'polyI:C activated KC'"}],
          "mark": {"type": "point", "shape": "circle", "size": 60, "filled": true, "fill": "white", "stroke": "black", "strokeWidth": 2.2, "opacity": 1},
          "encoding": {"y": {"field": "cpm", "type": "quantitative", "title": "CPM"}}
        },
        {
          "data": {"name": "stars"},
          "mark": {"type": "text", "fontSize": 38, "fontWeight": "bold", "baseline": "middle", "align": "center", "dy": 5, "color": "black"},
          "encoding": {"y": {"field": "cpm", "type": "quantitative", "title": "CPM"}, "text": {"field": "label"}}
        }
      ]
    }
  ]
}
